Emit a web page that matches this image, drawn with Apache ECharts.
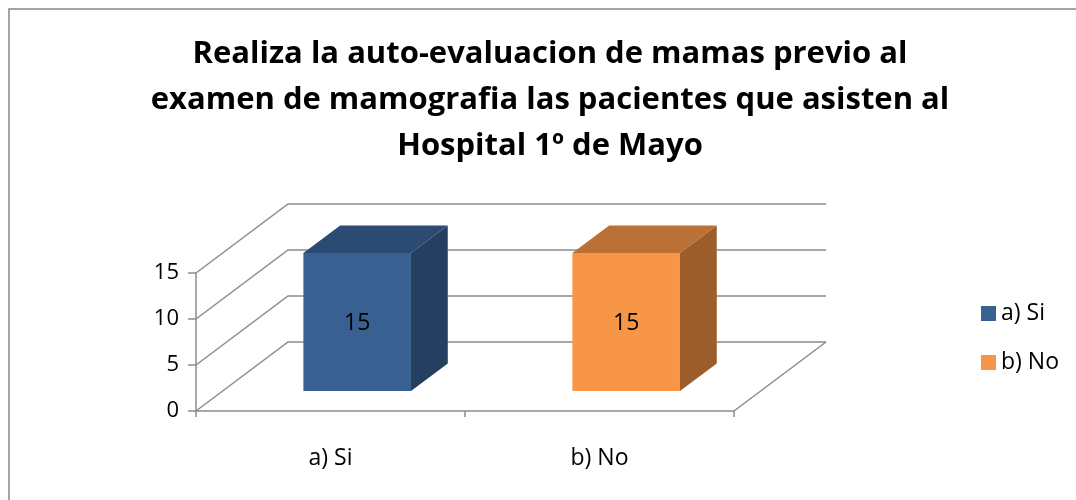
<!DOCTYPE html>
<html>
<head>
<meta charset="utf-8">
<script src="https://cdn.jsdelivr.net/npm/echarts@6/dist/echarts.min.js"></script>
<style>
  html, body { margin: 0; padding: 0; background: #fff; }
  #chart { width: 1076px; height: 500px; }
</style>
</head>
<body>
<div id="chart"></div>
<script>
const categories = ['a) Si', 'b) No'];
const values = [15, 15];
const yTicks = [0, 5, 10, 15];
const titleLines = [
  'Realiza la auto-evaluacion de mamas previo al',
  'examen de mamografia las pacientes que asisten al',
  'Hospital 1º de Mayo'
];

const frontColors = ['#386192', '#f79646'];
const sideColors = ['#243f5f', '#9c5d2b'];
const topColors = ['#2c4b72', '#bb7036'];

// fake 3d: how far the back wall sits from the front plane, in px
const DEPTH_X = 92;
const DEPTH_Y = 69;
const BAR_FRONT = 0.29;  // where the bar front face sits (share of depth)
const BAR_DEPTH = 0.40;  // bar depth (share of depth)
const BAR_WIDTH = 0.40;  // bar width (share of category width)

const FONT = 'Open Sans';
const GRID_LINE = '#8c8c8c';

function renderWall(params, api) {
  const cs = params.coordSys;
  const v = api.value(1);
  const y = api.coord([0, v])[1];
  const x0 = cs.x;
  const x1 = cs.x + cs.width;
  const children = [{
    type: 'polyline',
    shape: { points: [[x0, y], [x0 + DEPTH_X, y - DEPTH_Y], [x1 + DEPTH_X, y - DEPTH_Y]] },
    style: { stroke: GRID_LINE, lineWidth: 1.5, fill: null }
  }];
  if (v === 0) {
    children.push({
      type: 'line',
      shape: { x1: x1, y1: y, x2: x1 + DEPTH_X, y2: y - DEPTH_Y },
      style: { stroke: GRID_LINE, lineWidth: 1.5 }
    });
  }
  return { type: 'group', children: children };
}

function renderBar(params, api) {
  const i = api.value(0);
  const base = api.coord([i, 0]);
  const top = api.coord([i, api.value(1)]);
  const w = api.size([1, 0])[0] * BAR_WIDTH;
  const ox = DEPTH_X * BAR_FRONT, oy = -DEPTH_Y * BAR_FRONT;
  const dx = DEPTH_X * BAR_DEPTH, dy = -DEPTH_Y * BAR_DEPTH;
  const x1 = base[0] - w / 2 + ox;
  const x2 = x1 + w;
  const yb = base[1] + oy;
  const yt = top[1] + oy;
  return {
    type: 'group',
    children: [
      {
        type: 'polygon',
        shape: { points: [[x2, yt], [x2 + dx, yt + dy], [x2 + dx, yb + dy], [x2, yb]] },
        style: { fill: sideColors[i] }
      },
      {
        type: 'polygon',
        shape: { points: [[x1, yt], [x2, yt], [x2 + dx, yt + dy], [x1 + dx, yt + dy]] },
        style: { fill: topColors[i] }
      },
      {
        type: 'rect',
        shape: { x: x1, y: yt, width: w, height: yb - yt },
        style: { fill: frontColors[i] }
      },
      {
        type: 'text',
        x: (x1 + x2) / 2,
        y: (yt + yb) / 2 + 1,
        style: {
          text: String(api.value(1)),
          fill: '#000',
          font: '23px "' + FONT + '"',
          align: 'center',
          verticalAlign: 'middle'
        }
      }
    ]
  };
}

const chart = echarts.init(document.getElementById('chart'), null, { renderer: 'canvas' });

const option = {
  animation: false,
  backgroundColor: '#fff',
  textStyle: { fontFamily: FONT },
  graphic: [
    {
      type: 'rect',
      shape: { x: 9, y: 9, width: 1200, height: 700 },
      style: { fill: null, stroke: '#868686', lineWidth: 1.5 },
      silent: true
    },
    {
      // chart title, centred over the plot like the original
      type: 'text',
      x: 550,
      y: 31,
      style: {
        text: titleLines.join('\n'),
        font: 'bold 31px "' + FONT + '"',
        fill: '#000',
        align: 'center',
        verticalAlign: 'top',
        lineHeight: 46
      }
    }
  ],
  legend: {
    orient: 'vertical',
    left: 976,
    top: 297,
    itemWidth: 15,
    itemHeight: 15,
    itemGap: 26,
    icon: 'rect',
    data: categories,
    textStyle: { fontFamily: FONT, fontSize: 23, color: '#000' }
  },
  grid: { left: 196, top: 273, width: 538, height: 138 },
  xAxis: {
    type: 'category',
    data: categories,
    boundaryGap: true,
    axisLine: { lineStyle: { color: GRID_LINE, width: 1.5 } },
    axisTick: { show: true, length: 6, alignWithLabel: false, lineStyle: { color: GRID_LINE, width: 1.5 } },
    axisLabel: { margin: 36, fontFamily: FONT, fontSize: 23, color: '#000' },
    splitLine: { show: false }
  },
  yAxis: {
    type: 'value',
    min: 0,
    max: 15,
    interval: 5,
    axisLine: { show: true, lineStyle: { color: GRID_LINE, width: 1.5 } },
    axisTick: { show: true, length: 8, lineStyle: { color: GRID_LINE, width: 1.5 } },
    axisLabel: { margin: 17, fontFamily: FONT, fontSize: 22, color: '#000' },
    splitLine: { show: false }
  },
  series: [
    {
      type: 'custom',
      name: 'walls',
      z: 1,
      silent: true,
      renderItem: renderWall,
      data: yTicks.map(function (v) { return [0, v]; })
    }
  ].concat(categories.map(function (name, i) {
    return {
      type: 'custom',
      name: name,
      z: 3,
      itemStyle: { color: frontColors[i] },
      renderItem: renderBar,
      data: [[i, values[i]]]
    };
  }))
};

chart.setOption(option);
</script>
</body>
</html>
